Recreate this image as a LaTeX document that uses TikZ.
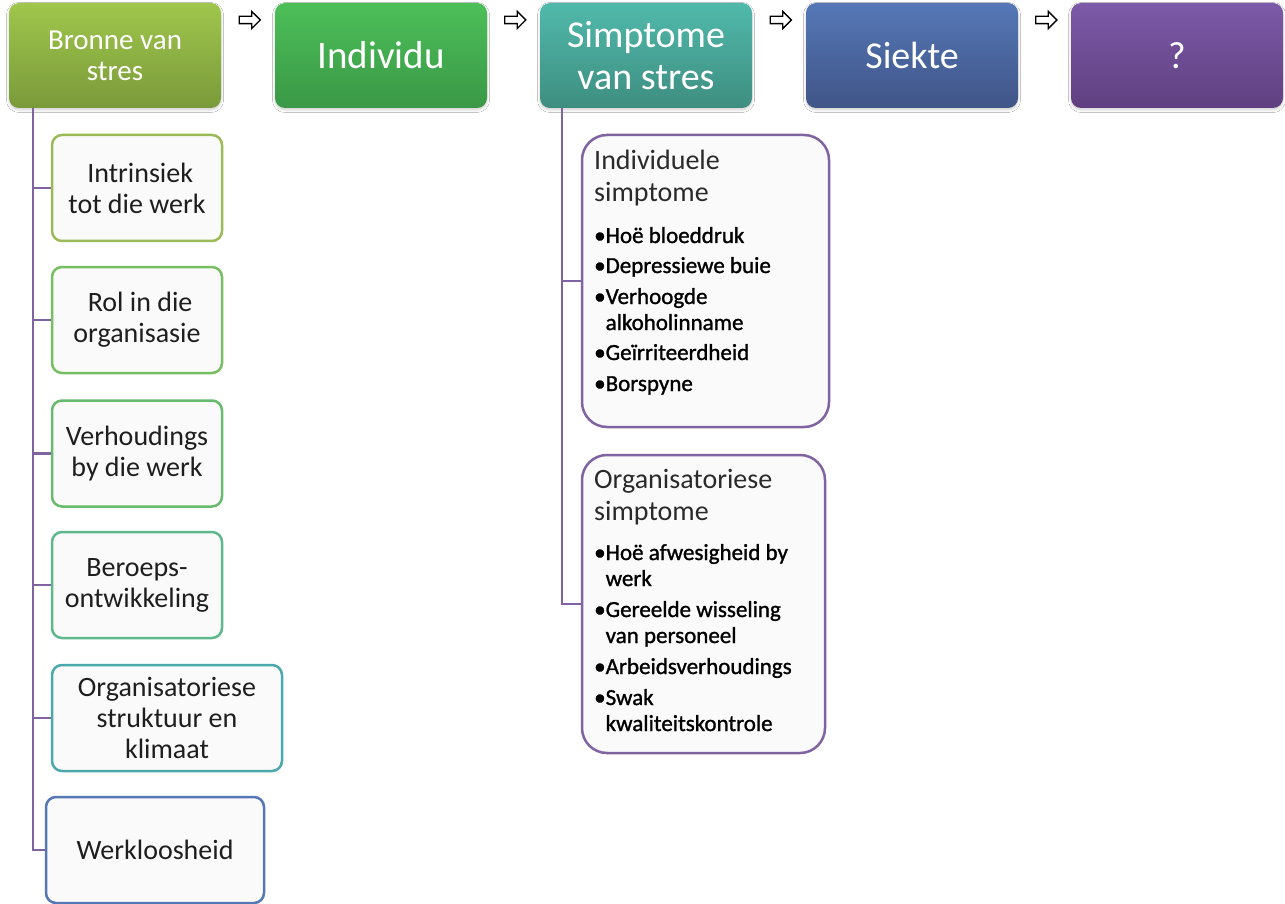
\documentclass[tikz,border=0pt]{standalone}
\usepackage{fontspec}
\setmainfont{Carlito}
\newfontfamily\bulfont[FakeBold=1.2]{Carlito}
\usetikzlibrary{shapes.arrows,shadows.blur}
\definecolor{lineP}{HTML}{8064A2}
\definecolor{txtD}{HTML}{1E1E1E}
\definecolor{hdD}{HTML}{2A2A2A}
\definecolor{b1t}{RGB}{160,198,76}\definecolor{b1b}{RGB}{122,154,58}
\definecolor{b2t}{RGB}{76,191,88}\definecolor{b2b}{RGB}{58,152,70}
\definecolor{b3t}{RGB}{80,185,171}\definecolor{b3b}{RGB}{62,142,128}
\definecolor{b4t}{RGB}{85,119,182}\definecolor{b4b}{RGB}{64,85,136}
\definecolor{b5t}{RGB}{125,90,168}\definecolor{b5b}{RGB}{96,63,128}
\definecolor{c1c}{RGB}{155,187,89}
\definecolor{c2c}{RGB}{118,190,98}
\definecolor{c3c}{RGB}{104,187,108}
\definecolor{c4c}{RGB}{94,184,140}
\definecolor{c5c}{RGB}{75,168,173}
\definecolor{c6c}{RGB}{85,119,181}
\definecolor{boxfill}{RGB}{250,250,250}
\begin{document}
\begin{tikzpicture}[x=1pt,y=-1pt,
  topbox/.style={rounded corners=10pt, minimum width=212pt, minimum height=105pt, inner sep=2pt,
     text=white, align=center,
     blur shadow={shadow xshift=0pt, shadow yshift=-2pt, shadow blur radius=2.5pt, shadow opacity=18}},
  childbox/.style={draw, line width=2.5pt, rounded corners=10pt, fill=boxfill,
     minimum height=106pt, inner sep=2pt, align=center, text=txtD,
     font=\fontsize{28}{31}\selectfont},
  symbox/.style={draw=lineP, line width=2.5pt, rounded corners=25pt, fill=boxfill},
  conn/.style={draw=lineP, line width=2.6pt},
  flowarrow/.style={single arrow, draw=black, fill=white, line width=1.3pt, minimum height=21pt,
     minimum width=16pt, single arrow head extend=5pt, inner sep=3pt},
  hd/.style={anchor=base west, inner sep=0pt, text=hdD, font=\fontsize{28}{31}\selectfont},
  bl/.style={anchor=base west, inner sep=0pt, text=black, font=\bulfont\fontsize{23}{26}\selectfont}
]
\useasboundingbox (0,0) rectangle (1285,904);
\fill[white] (0,0) rectangle (1285,904);

% top row
\node[topbox, top color=b1t, bottom color=b1b, font=\fontsize{29}{31}\selectfont] (b1) at (115,55.5) {Bronne van\\stres};
\node[topbox, top color=b2t, bottom color=b2b, font=\fontsize{39}{42}\selectfont] (b2) at (381,55.5) {Individu};
\node[topbox, top color=b3t, bottom color=b3b, font=\fontsize{38}{42}\selectfont] (b3) at (646,55.5) {Simptome\\van stres};
\node[topbox, top color=b4t, bottom color=b4b, font=\fontsize{38}{42}\selectfont] (b4) at (912,55.5) {Siekte};
\node[topbox, top color=b5t, bottom color=b5b, font=\fontsize{38}{42}\selectfont] (b5) at (1177,55.5) {?};

\node[flowarrow] (a1) at (248,20) {};
\node[flowarrow] (a2) at (513.5,20) {};
\node[flowarrow] (a3) at (779,20) {};
\node[flowarrow] (a4) at (1044.5,20) {};

% left children
\node[childbox, draw=c1c, minimum width=170pt] (c1) at (137,188) {~Intrinsiek\\tot die werk};
\node[childbox, draw=c2c, minimum width=170pt] (c2) at (137,320) {~Rol in die\\organisasie};
\node[childbox, draw=c3c, minimum width=170pt] (c3) at (137,453.5) {Verhoudings\\by die werk};
\node[childbox, draw=c4c, minimum width=170pt] (c4) at (137,585) {Beroeps-\\ontwikkeling};
\node[childbox, draw=c5c, minimum width=230pt] (c5) at (167,718) {Organisatoriese\\struktuur en\\klimaat};
\node[childbox, draw=c6c, minimum width=218pt] (c6) at (155,850) {Werkloosheid};

\coordinate (lt) at (33,108);
\draw[conn] (lt) |- (c1.west);
\draw[conn] (lt) |- (c2.west);
\draw[conn] (lt) |- (c3.west);
\draw[conn] (lt) |- (c4.west);
\draw[conn] (lt) |- (c5.west);
\draw[conn] (lt) |- (c6.west);

% right children
\node[symbox, minimum width=247pt, minimum height=292pt] (s1) at (705.5,281) {};
\node[symbox, minimum width=243pt, minimum height=298pt] (s2) at (703.5,604) {};
\coordinate (rt) at (562,108);
\draw[conn] (rt) |- (s1.west);
\draw[conn] (rt) |- (s2.west);

\node[hd] (h1a) at (594,170) {Individuele};
\node[hd] (h1b) at (594,202) {simptome};
\node[bl] (i1) at (594,243) {•Hoë bloeddruk};
\node[bl] (i2) at (594,273) {•Depressiewe buie};
\node[bl] (i3) at (594,304) {•Verhoogde};
\node[bl] (i3b) at (594,330) {\hphantom{•}alkoholinname};
\node[bl] (i4) at (594,360) {•Geïrriteerdheid};
\node[bl] (i5) at (594,391) {•Borspyne};

\node[hd] (h2a) at (594,488) {Organisatoriese};
\node[hd] (h2b) at (594,520) {simptome};
\node[bl] (o1) at (594,560) {•Hoë afwesigheid by};
\node[bl] (o1b) at (594,586) {\hphantom{•}werk};
\node[bl] (o2) at (594,617) {•Gereelde wisseling};
\node[bl] (o2b) at (594,643) {\hphantom{•}van personeel};
\node[bl] (o3) at (594,674) {•Arbeidsverhoudings};
\node[bl] (o4) at (594,705) {•Swak};
\node[bl] (o4b) at (594,731) {\hphantom{•}kwaliteitskontrole};
\end{tikzpicture}
\end{document}
